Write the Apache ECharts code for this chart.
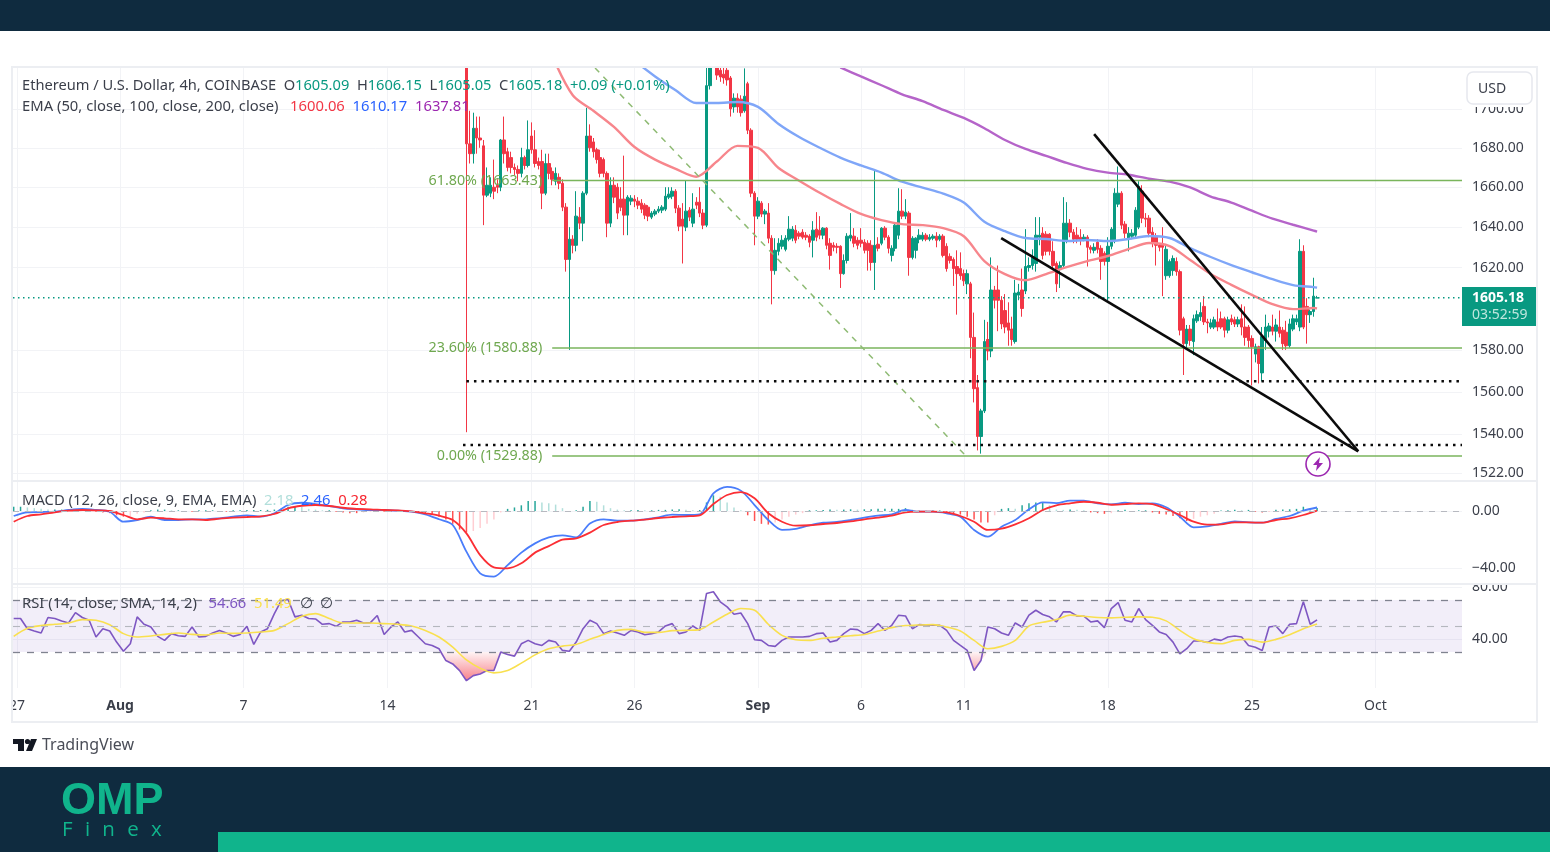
<!DOCTYPE html>
<html>
<head>
<meta charset="utf-8">
<title>ETH/USD 4h</title>
<script src="https://cdn.jsdelivr.net/npm/echarts@6/dist/echarts.min.js"></script>
<style>
  html, body { margin: 0; padding: 0; background: #fff; }
  #chart { width: 1550px; height: 852px; }
</style>
</head>
<body>
<div id="chart"></div>
<script>
// x axis is counted in 4h bars, bar 0 = Aug 1
const tickBars = [-30, 0, 36, 78, 120, 150, 186, 216, 246, 288, 330, 366]
const tickLabels = ['27', 'Aug', '7', '14', '21', '26', 'Sep', '6', '11', '18', '25', 'Oct']
const priceTicks = [1700, 1680, 1660, 1640, 1620, 1580, 1560, 1540, 1522]
const macdTicks = [0, -40]
const rsiTicks = [80, 40]

const firstCandleBar = 101
const lastBar = 349
const firstIndicatorBar = -31

// open, close, low, high
const candles = [
  [1805,1682,1541,1810],[1682,1677,1672,1699],[1677,1690,1672,1698],[1690,1685,1677,1696],[1685,1684,1680,1696],
  [1681,1656,1641,1684],[1656,1661,1655,1670],[1657,1661,1655,1665],[1660,1658,1654,1674],[1661,1660,1657,1664],
  [1660,1684,1658,1684.5],[1684,1677,1672,1696],[1678,1670,1668,1680],[1675,1670,1667,1678],[1670,1669,1666,1672],
  [1669,1667,1663,1671],[1667,1675,1665,1680],[1675,1671,1669,1676],[1671,1679,1670,1694],[1686,1679,1677,1693],
  [1679,1672,1670,1689],[1673,1671,1669,1675],[1673,1657,1649,1679],[1657,1672,1656,1677],[1672,1667,1664,1677],
  [1668,1664,1661,1670],[1663,1667,1661,1670],[1665,1662,1659,1667],[1662,1650,1648,1664],[1650,1624,1618,1652],
  [1624,1634,1580,1640],[1634,1631,1627,1636],[1631,1645.5,1628,1658],[1645,1642,1639,1650],[1642,1657,1633,1658],
  [1657,1686,1656,1700.5],[1686,1680,1678,1692],[1683,1678,1675,1685],[1679,1674,1672,1680],[1675,1667,1665,1679],
  [1674,1667,1665,1675],[1667,1642,1635,1668],[1642,1661,1640,1665],[1661,1655,1652,1665],[1660,1647,1644,1662],
  [1654,1650,1648,1660],[1654,1646,1636,1676],[1646,1655,1636,1656],[1653,1654.5,1651,1656],[1654,1653,1650,1656],
  [1653,1651,1649,1655],[1652,1649,1647,1654],[1651,1646,1644,1652],[1650,1645.5,1643,1651],[1645,1647,1644,1648],
  [1646.5,1648,1645.5,1649],[1648,1649,1647,1650.5],[1648.5,1650,1647,1651],[1649,1655.5,1648,1660],[1655,1656.5,1654,1660],
  [1655.5,1658,1654,1660],[1658,1649.5,1647,1659],[1649.5,1640.5,1638,1651],[1644,1640.5,1622,1652],[1640,1648,1638,1663.4],
  [1648.5,1645,1643,1650],[1642,1649,1640,1657],[1652.5,1651,1649,1655],[1652.5,1647,1645,1660],[1647,1641,1639,1649],
  [1641,1712,1640,1725],[1712,1732,1710,1740],[1735,1730,1726,1745],[1723,1717.5,1715,1735],[1720,1716.5,1714,1730],
  [1718,1716,1713,1722],[1720,1715,1712,1724],[1716,1700,1696,1717],[1701,1705.5,1698,1708],[1705.5,1701,1698,1708],
  [1705,1698,1696,1707],[1699,1706.5,1698,1721],[1713,1689,1687,1714],[1689,1657,1655,1690],[1657,1645.5,1631,1658],
  [1645.5,1653,1644,1655],[1652,1646.5,1645,1653],[1646.5,1648,1641.5,1649],[1647,1634.5,1632,1652],[1634.5,1618.5,1602,1636],
  [1618.5,1628.5,1616.5,1634.5],[1628,1632,1626,1634.5],[1630.5,1633.5,1629,1636],[1629,1634.5,1628,1636],[1634,1639,1633,1645.5],
  [1634.5,1639,1633,1640.5],[1638.5,1633.5,1632,1641],[1637,1635.5,1634,1638],[1637.5,1635,1634,1639],[1636,1635,1633.5,1637.5],
  [1635.5,1632.5,1630,1636.5],[1633.5,1638.5,1625,1643],[1639,1635,1633,1647.5],[1638.5,1636,1634,1645.5],[1636,1639.5,1634,1640],
  [1639.5,1631,1629,1640],[1632,1626,1619,1634.5],[1631,1630,1628,1632.5],[1630.5,1630,1627,1632],[1630.5,1617,1610,1631],
  [1617,1623.5,1616.5,1626.5],[1623.5,1635.5,1622,1637],[1634.5,1636,1633,1647],[1635.5,1632,1630,1639.5],[1633.5,1631,1629,1635],
  [1633.5,1632,1630,1639.5],[1632.5,1628.5,1627,1634],[1632,1628.5,1618.5,1633.5],[1631,1622.5,1618.5,1633.5],[1622.5,1631,1609,1669],
  [1631.5,1629.5,1628,1635],[1632,1639.5,1631,1640],[1639.5,1635,1633.5,1640.5],[1635,1629.5,1627,1636],[1626,1629.5,1623,1631],
  [1629.5,1641,1628,1642],[1636,1648,1634,1659.5],[1648,1645.5,1644,1659],[1645.5,1647.5,1644,1654],[1647,1625,1616,1648],
  [1625,1634.5,1624,1635.5],[1628.5,1634.5,1624.5,1635],[1634,1636,1632,1639],[1634,1636,1633,1637.5],[1636,1634,1633,1637],
  [1634,1635,1633,1636.5],[1634.5,1635.5,1633.5,1636.5],[1635.5,1633.5,1630,1637.5],[1634,1635.5,1633,1636.5],[1635.5,1626,1625,1636.5],
  [1630.5,1619.5,1618,1632],[1625.5,1623.5,1622,1627],[1624,1619.5,1611,1625],[1620.5,1617,1597,1628.5],[1619.5,1616,1614,1627.5],
  [1617,1613.5,1611,1619],[1612,1617,1607,1619],[1612,1586,1576,1613],[1586,1561.5,1555,1598],[1562,1539,1532.5,1568],
  [1539,1551,1531,1552],[1551,1584,1550,1594.5],[1585,1579.5,1575,1593.5],[1579.5,1609,1576.5,1625],[1609,1604,1600,1611],
  [1609,1604,1589,1621],[1604,1592.5,1590,1606],[1599,1591,1588,1607],[1593,1589.5,1582,1603],[1590,1585,1582,1596],
  [1584,1607.5,1583,1614],[1606.5,1608,1604,1612],[1609,1600,1596,1619.5],[1608.5,1620.5,1607,1639],[1620,1621,1618,1625],
  [1621,1625,1619,1629],[1622,1636,1618,1645],[1635,1636,1631,1645],[1637,1626,1624,1640],[1636.5,1628,1626,1638],
  [1636.5,1628,1626,1637],[1628,1621,1619,1633],[1622,1612,1608,1623],[1619,1621,1610,1623],[1621,1642,1620,1655],
  [1633.5,1642,1632,1652.5],[1642,1637.5,1635,1644],[1637.5,1634,1632,1639],[1636,1634,1632,1640],[1635,1633.5,1631,1639],
  [1634,1635,1633,1636.5],[1635,1630,1620.5,1636],[1630,1629,1627,1631],[1628.5,1630,1627,1632],[1632.5,1629,1627,1634],
  [1629.5,1623,1614,1631],[1627,1623,1621,1628],[1623,1630.5,1604,1635],[1630.5,1639,1629,1640],[1633.5,1657,1632,1659.5],
  [1651.5,1657,1650,1670.5],[1657,1641,1639,1658],[1641.5,1637,1634.5,1643],[1634.5,1637,1628,1640],[1635.5,1637,1634,1639],
  [1636,1648.5,1635,1650],[1640,1660.5,1639,1663],[1658,1644.5,1642,1661],[1644.5,1644,1640,1647],[1644.5,1637,1635,1646],
  [1637.5,1632,1630,1640],[1635,1631,1621,1637],[1631,1630,1628,1632],[1631,1630,1606,1640],[1616,1629,1614,1631],
  [1616,1623,1615,1624],[1618.5,1624.5,1616,1626],[1623,1618,1616,1625],[1618,1589.5,1587,1619],[1595,1583,1568,1596],
  [1583,1590,1581,1592],[1590,1584.5,1582,1592],[1584,1595,1577.5,1597],[1594,1597,1593,1599],[1596,1598,1594,1603],
  [1601,1593.5,1592,1606],[1593.5,1593,1588,1595],[1591,1593,1590,1595],[1591,1594.5,1590,1596],[1593.5,1591,1589,1600],
  [1595,1591,1590,1598.5],[1595,1589.5,1586,1596],[1589.5,1594.5,1588,1596],[1595,1593.5,1592,1597],[1594.5,1592.5,1591,1596],
  [1592.5,1594.5,1591,1596],[1595,1591,1587,1602],[1591,1586,1582,1601],[1591,1584.5,1581,1592],[1585.5,1581.5,1563,1587],
  [1578,1581.5,1574,1583],[1581.5,1573.5,1564,1582],[1569,1586.5,1565,1591],[1584.5,1591,1580,1597],[1589,1591.5,1586,1593],
  [1591,1589,1587,1597],[1589,1592,1584,1595],[1591,1588,1586,1599],[1589.5,1583,1580,1591],[1588.5,1582,1580,1594],
  [1582,1592.5,1581,1595],[1590,1595,1589,1597],[1593.5,1595,1592,1597],[1591,1628,1589,1634],[1628,1591,1590,1631],
  [1601,1597,1583,1605],[1597,1598.5,1593,1599.5],[1598.5,1606,1596,1615],[1605.09,1605.18,1605.05,1606.15]
]

// EMAs, one value every 6 bars, last value is the last bar
const ema50Start = 126
const ema50 = [1727.6,1707,1699,1690.7,1680.4,1674,1669.3,1665.3,1673,1681,1680,1669.7,1663.3,1657.2,1651.6,1646.6,1643.5,1641.5,1641,1639.5,1635.5,1623.2,1616.8,1613.8,1616.8,1620.2,1623.2,1625.7,1629.1,1632.1,1630.6,1623.7,1616.8,1611.5,1606.6,1602.1,1599.7,1600.2,1600.06]
const ema100Start = 150
const ema100 = [1725,1716.8,1709.6,1703,1703,1703.5,1701,1692.2,1685.5,1680,1675,1671,1667.4,1662.8,1659.8,1656.8,1652.3,1642.7,1638,1634.6,1634.1,1633.1,1633.6,1633.1,1634.1,1635.6,1634.6,1629.6,1625.2,1621.2,1617.7,1614.3,1611.4,1610.4,1610.17]
const ema200Start = 210
const ema200 = [1721.5,1716.8,1712.2,1707.5,1704,1699.4,1695.3,1690,1684,1679.4,1675.9,1672.3,1669.3,1667.4,1666.3,1664.3,1662.8,1659.9,1655.3,1652.3,1648.2,1644.2,1641.2,1638.3,1637.81]

// MACD and signal, one value every 4 bars
const macdLine = [-3.5,-.9,-.7,-.5,.7,1.4,.7,-.5,-7.5,-6.3,-4,-6.3,-6.3,-5.8,-5.8,-5.1,-4,-3,-4,-1.6,4.2,5.8,4.9,3.5,1.9,1.2,.7,.7,.2,-.5,-2.3,-5.8,-9.8,-28.5,-43.7,-46,-38,
  -29.2,-22.7,-18.5,-17.1,-18.5,-8.7,-5.8,-6.8,-6.8,-5.8,-4.4,-2.6,-2.8,-2.3,12.4,17,14.3,4.2,-6.3,-13.3,-12.6,-10,-8.2,-7.7,-6.3,-4.7,-3.3,-2.3,.7,-.5,-.5,-1.6,-4,-13.3,-18,-11,-6.3,
  1.2,6.1,5.6,7.3,7.3,5.4,4.7,5.8,4.9,5.4,2.6,-4,-11.5,-10.8,-9.1,-7.3,-8,-8.2,-5.6,-3.5,.2,2.46]
const signalLine = [-7.5,-3.5,-2.3,-.9,.2,.7,.5,0,-2.8,-5.8,-4.7,-5.1,-5.8,-5.8,-6.3,-5.4,-4.7,-4.2,-3.7,-2.1,1.9,3.7,4.2,3.5,2.3,1.4,1.2,.7,.5,-.2,-1.6,-3.3,-6.3,-15.7,-30.9,-39.5,-40.2,
  -36.7,-29.2,-24.6,-20.1,-19.2,-15.2,-9.8,-7.7,-6.8,-6.1,-4.9,-4.2,-3.7,-3,4.9,11.2,13.3,8.9,-1.6,-7.5,-10.3,-10,-9.1,-8.4,-7.3,-5.8,-4.7,-3.3,-.9,-.5,-.5,-.9,-3.5,-7.5,-13.3,-12.4,-9.4,
  -5.1,.7,4,5.4,6.5,5.8,4.4,4.9,5.4,4.9,1.4,-2.8,-7.5,-9.6,-9.4,-8,-8,-8.2,-6.3,-5.1,-2.8,.28]

// MACD histogram, one value every 2 bars
const macdHist = [3,3,2.5,2,1.5,1,1,1,.8,.8,.8,.7,-.5,
  -1,-1.5,-3,-4,-3.5,-2,-1,.5,1,1,
  .5,.5,-.5,-.5,.5,.5,.5,-.5,-.5,.5,.5,.7,.7,.7,.8,1,1.5,3,
  3.5,3,1.5,1,.5,.5,-.5,-1,-1.5,-1.5,
  -1,-.5,-.5,-.5,-.5,-.5,-.5,-.7,-.7,-1.5,
  -2.5,-4,-6,-9,-13,-15,-14,-12,-9,-6,
  -1,1.5,2.5,4,7,7,6,5.5,4.5,2,-.5,.5,3,7,6.5,4,2,1,.5,
  .5,.7,.5,.5,.8,.8,1,1.2,.8,.5,.7,6,11,10,6,2.5,.5,-3,-7,-9,-9.5,-8,-6,-4,-2.5,-1.5,.5,
  .5,.7,1,.8,1,1.2,1,1.2,1.3,1.5,1.5,1.5,1.5,2,1,.5,.3,.3,.3,
  -.5,-1.5,-2.5,-4,-6,-8,-8,-3,1.5,2,1.5,
  4,5.5,6,6,4,1,.8,1,.8,.5,-1,-1.5,-2,-1.5,.5,.8,-.5,.5,.5,-1,-2,-2.5,-3.5,-5,-7,-5.5,-4,-3,-2,.3,.5,.8,.5,.8,-.5,-1,-.7,.8,1,1.2,1.5,3,2,2.18]

// RSI, one value every 2 bars
const rsiLine = [55.7,55.7,47.9,46.1,44.6,56.5,55.7,53.9,52.3,60.3,56.5,54.4,41.5,47.9,46.1,37.6,30.6,36.3,57,51.3,49.2,42,38.9,44.1,42.5,42,49.2,41.5,42,44.6,46.6,44.6,42,43.5,49.7,35.8,45.4,47.9,59.5,69.4,70.4,57,58.3,55.7,55.4,51.3,51.8,49.7,53.1,53.1,54.4,52.3,52.6,58,43.5,49.2,53.1,45.4,46.6,41.5,36.3,35,32.5,23.4,20.8,15.7,7.9,11.8,13.1,15.7,15.7,29.9,
  28,26.8,36.3,38.9,36.3,35,38.9,37.6,31.2,30.6,37.6,47.9,54.4,51.8,44.1,46.1,44.6,42.8,46.6,45.4,43.3,44.1,45.4,50,51.8,44.1,45.4,50,46.6,75,76.3,68.6,64.7,59,60,51.8,39.4,38.9,35,34.3,38.9,41.5,41.5,41.5,42,44.1,44.6,37.6,38.9,44.1,47.7,47.2,44.1,46.6,51.8,46.6,50.5,58.3,57.7,47.9,51,50.8,50.5,50.5,46.6,38.9,35,31.2,15.7,23.4,49.2,47.9,44.6,42.8,52.3,
  49.2,58.3,62.1,58.8,57,53.1,60.8,60.8,57.7,57.5,53.1,53.9,48.7,63.4,68,54.4,53.1,63.4,54.9,50.5,45.4,43.5,37.6,28.6,32.5,38.4,38.4,37.4,39.9,38.9,41.5,42.3,41.5,35,33.7,31.2,49.2,50,44.1,51.3,51.8,68.6,51.3,54.66]

// RSI moving average, one value every 4 bars
const rsiMa = [42,48.2,50.3,51.3,52.3,54.9,54.4,51,44.1,41.5,42.3,43.5,44.6,43.5,43,44.6,44.3,44.6,45.4,46.6,51.8,57.5,59.5,55.7,52.3,52.3,52.3,51.8,51.3,50,46.6,41.5,33.7,23.9,17.5,13.9,15.7,
  21.4,27.8,32.5,34.5,35.8,39.7,43.5,46.6,47.4,45.1,45.1,46.4,46.6,47.2,53.1,59,63.4,62.1,51.3,42.8,39.4,38.9,40.5,41.5,42.5,43.5,46.1,48.7,50.3,50.8,51,49.2,46.1,38.9,32.5,34.3,38.9,
  50,52.8,54.9,58.3,57.5,56.5,56.2,56.7,57,56.7,53.9,46.6,40.2,37.4,36.3,38.9,39.7,37.6,39.7,43.3,47.9,51.49]

// drawings on the price pane: [bar, price]
const fibLevels = [
  { text: '61.80% (1663.43)', price: 1663.43, from: 126 },
  { text: '23.60% (1580.88)', price: 1580.88, from: 126 },
  { text: '0.00% (1529.88)', price: 1529.88, from: 126 }
]
const fibDiagonal = [[138.5, 1721.2], [246.4, 1530.3]]
const upperTrend = [[284, 1687], [361, 1532.1]]
const lowerTrend = [[256.9, 1634.6], [361, 1532.1]]
const dottedLevels = [
  { price: 1565, from: 101 },
  { price: 1535, from: 100 }
]
const lastPrice = 1605.18

const GREEN = '#089981'
const RED = '#F23645'
const FONT = '"Noto Sans", sans-serif'
const LEGEND_FONT = '14.8px ' + FONT
const TEXT = '#3b3f4a'
const GRID_LINE = '#f2f3f6'
const X_MIN = -31.2
const X_MAX = 391.25

const evenStep = (vals, start, step) => vals.map((v, i) => [Math.min(start + i * step, lastBar), v])

const candleData = candles.map((c, i) => [firstCandleBar + i, c[0], c[1], c[2], c[3]])

const histData = macdHist.map((v, i) => {
  const prev = i > 0 ? macdHist[i - 1] : v
  let color
  if (v >= 0) color = v >= prev ? '#26a69a' : '#b2dfdb'
  else color = v <= prev ? '#ff5252' : '#ffcdd2'
  return { value: [firstIndicatorBar + i * 2, v], itemStyle: { color: color } }
})

// only the stretch where rsi sits under 30 gets the red fill
const rsiLow = rsiLine.map((v, i) => {
  const bar = firstIndicatorBar + i * 2
  if (v < 30) return [bar, v]
  if (rsiLine[i - 1] < 30 || rsiLine[i + 1] < 30) return [bar, 30]
  return [bar, null]
})

function lineSeries (name, data, color, width, xi, yi, extra) {
  return Object.assign({
    name: name,
    type: 'line',
    data: data,
    xAxisIndex: xi,
    yAxisIndex: yi,
    showSymbol: false,
    symbol: 'none',
    silent: true,
    animation: false,
    lineStyle: { color: color, width: width }
  }, extra || {})
}

function makeXAxis (gridIndex, showLabels) {
  return {
    type: 'value',
    gridIndex: gridIndex,
    min: X_MIN,
    max: X_MAX,
    axisLine: { show: false },
    axisTick: { show: false, customValues: tickBars },
    splitLine: { show: true, lineStyle: { color: GRID_LINE, width: 1 } },
    axisLabel: {
      show: showLabels,
      customValues: tickBars,
      margin: 11,
      fontFamily: FONT,
      fontSize: 14,
      color: TEXT,
      hideOverlap: false,
      showMinLabel: true,
      showMaxLabel: true,
      formatter: function (v) {
        const label = tickLabels[tickBars.indexOf(v)]
        if (label === 'Aug' || label === 'Sep') return '{b|' + label + '}'
        return label
      },
      rich: { b: { fontFamily: FONT, fontSize: 14, fontWeight: 'bold', color: TEXT } }
    }
  }
}

function makeYAxis (gridIndex, min, max, ticks, type, labelPadding) {
  return {
    type: type,
    gridIndex: gridIndex,
    position: 'right',
    min: min,
    max: max,
    logBase: 10,
    axisLine: { show: false },
    axisTick: { show: false, customValues: ticks },
    splitLine: { show: true, lineStyle: { color: GRID_LINE, width: 1 } },
    axisLabel: {
      customValues: ticks,
      margin: 10,
      padding: labelPadding,
      fontFamily: FONT,
      fontSize: 14,
      color: TEXT,
      hideOverlap: false,
      showMinLabel: true,
      showMaxLabel: true,
      formatter: function (v) { return Number(v).toFixed(2).replace('-', '\u2212') }
    }
  }
}

const option = {
  animation: false,
  backgroundColor: '#fff',
  grid: [
    { left: 13, width: 1449, top: 68, height: 412 },
    { left: 13, width: 1449, top: 482, height: 101 },
    { left: 13, width: 1449, top: 585, height: 103 }
  ],
  xAxis: [makeXAxis(0, false), makeXAxis(1, false), makeXAxis(2, true)],
  yAxis: [
    makeYAxis(0, 1518.8, 1721.2, priceTicks, 'log', 0),
    makeYAxis(1, -50.5, 20.35, macdTicks, 'value', [2, 0, 0, 0]),
    makeYAxis(2, 2.3, 81.5, rsiTicks, 'value', 0)
  ],
  series: [
    {
      name: 'ETHUSD',
      type: 'candlestick',
      xAxisIndex: 0,
      yAxisIndex: 0,
      data: candleData,
      encode: { x: 0, y: [1, 2, 3, 4] },
      barWidth: 3,
      silent: true,
      animation: false,
      clip: true,
      itemStyle: { color: GREEN, color0: RED, borderColor: GREEN, borderColor0: RED, borderWidth: 1 }
    },
    lineSeries('EMA 50', evenStep(ema50, ema50Start, 6), '#f7868c', 2.4, 0, 0, { smooth: 0.3 }),
    lineSeries('EMA 100', evenStep(ema100, ema100Start, 6), '#7fa6f8', 2.4, 0, 0, { smooth: 0.3 }),
    lineSeries('EMA 200', evenStep(ema200, ema200Start, 6), '#b564c9', 2.4, 0, 0, { smooth: 0.3 }),
    lineSeries('Last', [[X_MIN, lastPrice], [X_MAX, lastPrice]], GREEN, 1, 0, 0, {
      lineStyle: { color: GREEN, width: 1.5, type: [1.5, 3.5] }
    })
  ].concat(fibLevels.map(function (f) {
    // symbol has to exist for the label to draw, size 0 keeps it invisible
    return lineSeries(f.text, [
      {
        value: [f.from, f.price],
        label: { show: true, position: 'left', distance: 10, formatter: f.text, fontFamily: FONT, fontSize: 14.3, color: '#6fa84f' }
      },
      { value: [X_MAX, f.price] }
    ], '#7ab55c', 1.5, 0, 0, { showSymbol: true, symbol: 'circle', symbolSize: 0 })
  })).concat([
    lineSeries('Fib trend', fibDiagonal, '#8fbb74', 1.5, 0, 0, {
      lineStyle: { color: '#8fbb74', width: 1.5, type: [6, 6] }
    }),
    lineSeries('Upper trend', upperTrend, '#0b0b0b', 2.6, 0, 0),
    lineSeries('Lower trend', lowerTrend, '#0b0b0b', 2.6, 0, 0)
  ]).concat(dottedLevels.map(function (d) {
    return lineSeries('Level ' + d.price, [[d.from, d.price], [X_MAX, d.price]], '#0b0b0b', 2.5, 0, 0, {
      lineStyle: { color: '#0b0b0b', width: 2.5, type: [2.5, 5] }
    })
  })).concat([
    {
      name: 'Histogram',
      type: 'bar',
      xAxisIndex: 1,
      yAxisIndex: 1,
      data: histData,
      barWidth: 1.5,
      silent: true,
      animation: false,
      markLine: {
        silent: true,
        symbol: 'none',
        label: { show: false },
        lineStyle: { color: '#b7b9c0', width: 1, type: [6, 6] },
        data: [{ yAxis: 0 }]
      }
    },
    lineSeries('MACD', evenStep(macdLine, firstIndicatorBar, 4), '#4a7dfb', 1.8, 1, 1, { smooth: 0.3 }),
    lineSeries('Signal', evenStep(signalLine, firstIndicatorBar, 4), '#fb2e34', 1.8, 1, 1, { smooth: 0.3 }),
    lineSeries('RSI low', rsiLow, 'rgba(0,0,0,0)', 0, 2, 2, {
      areaStyle: {
        origin: 30,
        color: {
          type: 'linear', x: 0, y: 0, x2: 0, y2: 1,
          colorStops: [{ offset: 0, color: 'rgba(242,54,69,0.08)' }, { offset: 1, color: 'rgba(242,54,69,0.9)' }]
        }
      }
    }),
    lineSeries('RSI', evenStep(rsiLine, firstIndicatorBar, 2), '#7e57c2', 1.6, 2, 2, {
      markArea: {
        silent: true,
        itemStyle: { color: 'rgba(126,87,194,0.1)' },
        data: [[{ yAxis: 70 }, { yAxis: 30 }]]
      },
      markLine: {
        silent: true,
        symbol: 'none',
        label: { show: false },
        data: [
          { yAxis: 70, lineStyle: { color: '#808390', width: 1.3, type: [7, 7] } },
          { yAxis: 50, lineStyle: { color: '#b5b7be', width: 1.1, type: [7, 7] } },
          { yAxis: 30, lineStyle: { color: '#808390', width: 1.3, type: [7, 7] } }
        ]
      }
    }),
    lineSeries('RSI MA', evenStep(rsiMa, firstIndicatorBar, 4), '#f9e04f', 1.6, 2, 2, { smooth: 0.3 })
  ]),
  graphic: [
    // brand bars
    { type: 'rect', z: 100, shape: { x: 0, y: 0, width: 1550, height: 31 }, style: { fill: '#0f2b3f' } },
    { type: 'rect', z: 100, shape: { x: 0, y: 767, width: 1550, height: 85 }, style: { fill: '#0f2b3f' } },
    { type: 'rect', z: 101, shape: { x: 218, y: 832, width: 1332, height: 20 }, style: { fill: '#10b48c' } },
    { type: 'text', z: 101, style: { x: 61, y: 802, text: 'OMP', fill: '#10b48c', font: 'bold 45px "Liberation Sans", sans-serif', textVerticalAlign: 'middle' } },
    { type: 'text', z: 101, style: { x: 62, y: 830, text: 'F\u2002\u200ai\u2002\u200an\u2002\u200ae\u2002\u200ax', fill: '#10b48c', font: '20.5px "Open Sans", sans-serif', textVerticalAlign: 'middle' } },

    // masks: candles above the pane, and axis labels the panes cut off
    { type: 'rect', z: 90, shape: { x: 13, y: 31, width: 1449, height: 36 }, style: { fill: '#fff' } },
    { type: 'rect', z: 90, shape: { x: 1463, y: 68, width: 74, height: 39 }, style: { fill: '#fff' } },
    { type: 'rect', z: 90, shape: { x: 1463, y: 576, width: 74, height: 8 }, style: { fill: '#fff' } },
    { type: 'rect', z: 90, shape: { x: 0, y: 695, width: 12, height: 24 }, style: { fill: '#fff' } },

    // frame and pane separators
    { type: 'rect', z: 95, shape: { x: 12, y: 67, width: 1525, height: 655 }, style: { fill: 'transparent', stroke: '#eceef2', lineWidth: 2 } },
    { type: 'rect', z: 95, shape: { x: 13, y: 480, width: 1524, height: 2 }, style: { fill: '#eceef2' } },
    { type: 'rect', z: 95, shape: { x: 13, y: 583, width: 1524, height: 2 }, style: { fill: '#eceef2' } },

    // legends
    {
      type: 'text', z: 96,
      style: {
        x: 22, y: 86, textVerticalAlign: 'middle',
        text: 'Ethereum / U.S. Dollar, 4h, COINBASE  O{g|1605.09}  H{g|1606.15}  L{g|1605.05}  C{g|1605.18}  {g|+0.09 (+0.01%)}',
        font: '14.65px ' + FONT, fill: TEXT,
        rich: { g: { fill: GREEN, font: '14.65px ' + FONT } }
      }
    },
    {
      type: 'text', z: 96,
      style: {
        x: 22, y: 107, textVerticalAlign: 'middle',
        text: 'EMA (50, close, 100, close, 200, close)   {r|1600.06}  {b|1610.17}  {p|1637.81}',
        font: LEGEND_FONT, fill: TEXT,
        rich: { r: { fill: RED, font: LEGEND_FONT }, b: { fill: '#2962ff', font: LEGEND_FONT }, p: { fill: '#9c27b0', font: LEGEND_FONT } }
      }
    },
    {
      type: 'text', z: 96,
      style: {
        x: 22, y: 501, textVerticalAlign: 'middle',
        text: 'MACD (12, 26, close, 9, EMA, EMA)  {t|2.18}  {b|2.46}  {r|0.28}',
        font: LEGEND_FONT, fill: TEXT,
        rich: { t: { fill: '#b2dfdb', font: LEGEND_FONT }, b: { fill: '#2962ff', font: LEGEND_FONT }, r: { fill: '#f7252f', font: LEGEND_FONT } }
      }
    },
    {
      type: 'text', z: 96,
      style: {
        x: 22, y: 604, textVerticalAlign: 'middle',
        text: 'RSI (14, close, SMA, 14, 2)   {p|54.66}  {y|51.49}  \u2205  \u2205',
        font: LEGEND_FONT, fill: TEXT,
        rich: { p: { fill: '#7e57c2', font: LEGEND_FONT }, y: { fill: '#f9e04f', font: LEGEND_FONT } }
      }
    },

    // USD button, sits on top of the 1700 label
    { type: 'rect', z: 92, shape: { x: 1467, y: 72, width: 65, height: 32, r: 6 }, style: { fill: '#fff', stroke: '#e6e8ee', lineWidth: 1.5 } },
    { type: 'text', z: 93, style: { x: 1478, y: 89, text: 'USD', fill: TEXT, font: '14px ' + FONT, textVerticalAlign: 'middle' } },

    // last price tag
    { type: 'rect', z: 92, shape: { x: 1462, y: 287, width: 75, height: 39 }, style: { fill: GREEN } },
    { type: 'text', z: 93, style: { x: 1472, y: 298, text: '1605.18', fill: '#fff', font: 'bold 14px ' + FONT, textVerticalAlign: 'middle' } },
    { type: 'text', z: 93, style: { x: 1472, y: 315, text: '03:52:59', fill: '#bfe6dd', font: '14px ' + FONT, textVerticalAlign: 'middle' } },

    // bolt marker
    { type: 'circle', z: 92, shape: { cx: 1318, cy: 464, r: 12 }, style: { fill: '#fff', stroke: '#9c27b0', lineWidth: 1.6 } },
    { type: 'polygon', z: 93, shape: { points: [[1320, 457], [1313, 465], [1317, 465], [1316, 471], [1323, 463], [1319, 463]] }, style: { fill: '#9c27b0' } },

    // TradingView mark
    { type: 'polygon', z: 93, shape: { points: [[13, 739], [24, 739], [24, 751], [18, 751], [18, 744], [13, 744]] }, style: { fill: '#131722' } },
    { type: 'circle', z: 93, shape: { cx: 27.5, cy: 741.5, r: 2.6 }, style: { fill: '#131722' } },
    { type: 'polygon', z: 93, shape: { points: [[31, 739], [37, 739], [32, 751], [26, 751]] }, style: { fill: '#131722' } },
    { type: 'text', z: 93, style: { x: 42, y: 745, text: 'TradingView', fill: '#4a4d57', font: '16px ' + FONT, textVerticalAlign: 'middle' } }
  ]
}

const chart = echarts.init(document.getElementById('chart'))
chart.setOption(option)
</script>
</body>
</html>
